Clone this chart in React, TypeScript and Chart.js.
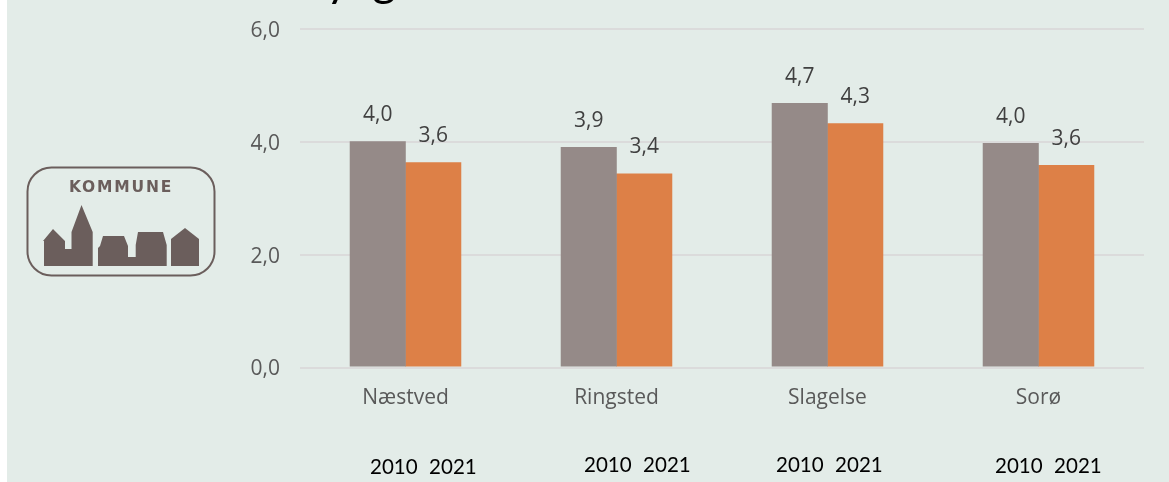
import React, { useEffect, useRef } from "react";
import { Chart, registerables } from "chart.js";

Chart.register(...registerables);

const categories = ["Næstved", "Ringsted", "Slagelse", "Sorø"];
const values2010 = [4.01, 3.91, 4.69, 3.98];
const values2021 = [3.64, 3.44, 4.33, 3.59];
const yTicks = ["0,0", "2,0", "4,0", "6,0"];
const yearA = "2010";
const yearB = "2021";
const yearLabelPlaces = [
  { left: 370, top: 467 },
  { left: 584, top: 465 },
  { left: 776, top: 465 },
  { left: 995, top: 466 },
];

const TICK_FONT = '"Open Sans", sans-serif';
const GREY = "#958A88";
const ORANGE = "#DD8047";
const LOGO = "#6B5E5C";

const valueLabels = {
  id: "valueLabels",
  afterDatasetsDraw(chart: any) {
    const { ctx } = chart;
    ctx.save();
    ctx.font = `21px ${TICK_FONT}`;
    ctx.fillStyle = "#404040";
    ctx.textAlign = "center";
    ctx.textBaseline = "middle";
    chart.data.datasets.forEach((ds: any, i: number) => {
      chart.getDatasetMeta(i).data.forEach((bar: any, j: number) => {
        const text = Number(ds.data[j]).toFixed(1).replace(".", ",");
        ctx.fillText(text, bar.x, bar.y - 26);
      });
    });
    ctx.fillStyle = "#595959";
    ctx.textAlign = "right";
    const y = chart.scales.y;
    y.ticks.forEach((t: any, i: number) => {
      ctx.fillText(yTicks[i], y.right - 20, y.getPixelForValue(t.value) + 2);
    });
    ctx.restore();
  },
};

export default function App() {
  const ref = useRef<HTMLCanvasElement>(null);

  useEffect(() => {
    const chart = new Chart(ref.current as HTMLCanvasElement, {
      type: "bar",
      data: {
        labels: categories,
        datasets: [
          { label: yearA, data: values2010, backgroundColor: GREY, categoryPercentage: 0.526, barPercentage: 1.01 },
          { label: yearB, data: values2021, backgroundColor: ORANGE, categoryPercentage: 0.526, barPercentage: 1.01 },
        ],
      },
      options: {
        responsive: false,
        animation: false,
        devicePixelRatio: 1,
        layout: { padding: { left: 0, top: 29, right: 25, bottom: 0 } },
        plugins: { legend: { display: false }, tooltip: { enabled: false } },
        scales: {
          x: {
            grid: { display: false },
            border: { display: false },
            afterFit(scale: any) {
              scale.height = 114.5;
            },
            ticks: {
              color: "#595959",
              font: { family: TICK_FONT, size: 21 },
              padding: 10,
              maxRotation: 0,
            },
          },
          y: {
            min: 0,
            max: 6,
            afterFit(scale: any) {
              scale.width = 300;
              scale.paddingTop = 0;
              scale.paddingBottom = 0;
            },
            afterBuildTicks(scale: any) {
              scale.ticks = yTicks.map((_, i) => ({ value: i * 2 }));
            },
            grid: { color: "#DBDBDB", lineWidth: 2, drawTicks: false },
            border: { display: false },
            ticks: {
              color: "rgba(0,0,0,0)",
              font: { family: TICK_FONT, size: 21 },
              padding: 20,
              callback: (_v: any, i: number) => yTicks[i],
            },
          },
        },
      },
      plugins: [valueLabels],
    });
    return () => chart.destroy();
  }, []);

  return (
    <div style={{ position: "absolute", left: 0, top: 0, width: 1169, height: 482, overflow: "hidden", background: "#fff" }}>
      <div style={{ position: "absolute", left: 7, top: 0, right: 0, bottom: 0, background: "#E3ECE8" }} />
      <canvas ref={ref} width={1169} height={482} style={{ position: "absolute", left: 0, top: 0, width: 1169, height: 482 }} />
      <svg width={1169} height={482} style={{ position: "absolute", left: 0, top: 0 }}>
        <text x={326} y={-4} fontFamily="Lato, sans-serif" fontSize={46} fill="#000" xmlSpace="preserve">y  g</text>
        <rect x={27.5} y={167.5} width={187} height={108} rx={24} ry={24} fill="none" stroke={LOGO} strokeWidth={2} />
        <text x={121} y={192} textAnchor="middle" fontFamily='"DejaVu Sans", sans-serif' fontWeight={700} fontSize={15.5} letterSpacing={1.8} fill={LOGO}>KOMMUNE</text>
        <path fill={LOGO} d="M44 266 V241 H43 L53 229 L65 241 V249 H71.5 V232 L81.5 205 L92.7 232 V266 Z" />
        <path fill={LOGO} d="M98 266 V248 L100 246 L103 236 H124 L128 246 V257 H135.7 V245 L138 232 H163 L166.7 245 V266 Z" />
        <path fill={LOGO} d="M171 266 V239 L185 228 L199 239 V266 Z" />
      </svg>
      {yearLabelPlaces.map((p, i) => (
        <div
          key={i}
          style={{
            position: "absolute",
            left: p.left,
            top: p.top,
            transform: "translateY(-50%) scaleX(0.955)",
            transformOrigin: "left center",
            display: "flex",
            gap: 12,
            fontFamily: "Lato, sans-serif",
            fontSize: 21.5,
            lineHeight: 1,
            color: "#000",
          }}
        >
          <span>{yearA}</span>
          <span>{yearB}</span>
        </div>
      ))}
    </div>
  );
}
